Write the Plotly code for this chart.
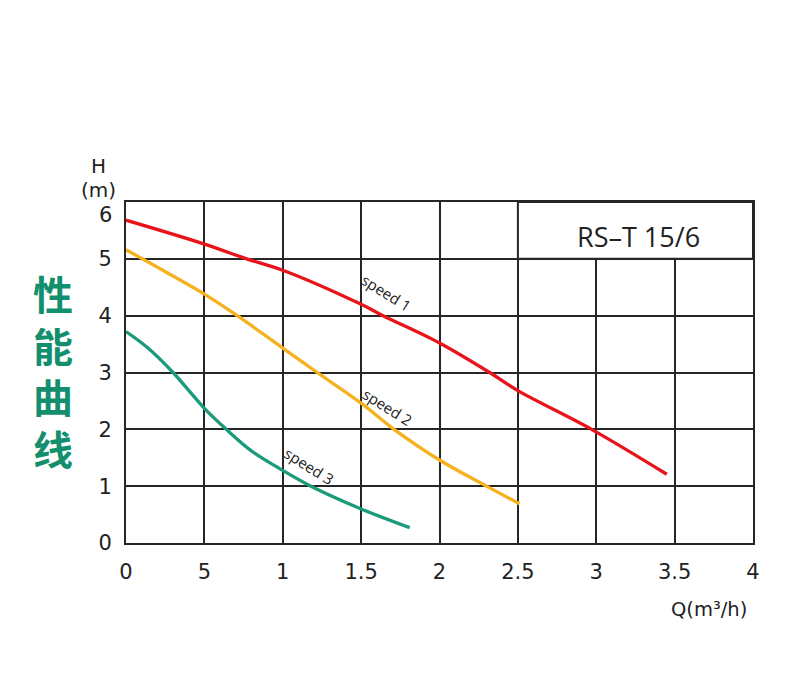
import plotly.graph_objects as go

# Speed 1 (red)
q1 = [0, 0.5, 0.77, 1.0, 1.5, 1.64, 2.0, 2.32, 2.5, 2.97, 3.45]
h1 = [5.68, 5.26, 5.0, 4.80, 4.20, 4.0, 3.52, 3.0, 2.68, 2.0, 1.21]
# Speed 2 (orange)
q2 = [0, 0.26, 0.5, 0.71, 1.0, 1.22, 1.5, 1.71, 2.0, 2.3, 2.51]
h2 = [5.16, 4.76, 4.38, 4.0, 3.43, 3.0, 2.46, 2.0, 1.46, 1.0, 0.69]
# Speed 3 (green)
q3 = [0, 0.14, 0.30, 0.5, 0.64, 0.8, 0.98, 1.18, 1.5, 1.81]
h3 = [3.72, 3.43, 3.0, 2.37, 2.0, 1.62, 1.31, 1.0, 0.60, 0.27]

x_ticks = [0, 0.5, 1, 1.5, 2, 2.5, 3, 3.5, 4]
x_ticktext = ["0", "5", "1", "1.5", "2", "2.5", "3", "3.5", "4"]
y_ticks = [0, 1, 2, 3, 4, 5]
y_ticktext = ["0", "1", "2", "3", "4", "5"]

series_names = ["speed 1", "speed 2", "speed 3"]
colors = ["#e8141c", "#f5b11e", "#1b9a7c"]
model = "RS–T 15/6"
title_cn = "性能曲线"

TICK_FONT = "DejaVu Sans"

fig = go.Figure()
for q, h, c, n in zip([q1, q2, q3], [h1, h2, h3], colors, series_names):
    fig.add_trace(go.Scatter(x=q, y=h, mode="lines", name=n,
                             line=dict(color=c, width=3.3, shape="spline", smoothing=1.0),
                             hoverinfo="skip"))

grid_c = "#262626"
# page has an 8px body margin, so the figure is 8px smaller and margins shifted
fig.update_layout(
    width=782, height=678,
    margin=dict(l=118, r=37, t=194, b=143),
    paper_bgcolor="white", plot_bgcolor="white",
    showlegend=False,
    font=dict(family=TICK_FONT, color="#222222"),
    xaxis=dict(range=[0, 4], tickvals=x_ticks, ticktext=x_ticktext, automargin=False,
               showgrid=True, gridcolor=grid_c, gridwidth=2,
               showline=True, linecolor=grid_c, linewidth=2, mirror=True,
               zeroline=False, ticks="outside", ticklen=9,
               tickcolor="rgba(0,0,0,0)", tickfont=dict(family=TICK_FONT, size=21, color="#222")),
    yaxis=dict(range=[0, 6], tickvals=y_ticks, ticktext=y_ticktext, automargin=False,
               showgrid=True, gridcolor=grid_c, gridwidth=2,
               showline=True, linecolor=grid_c, linewidth=2, mirror=True,
               zeroline=False, ticks="outside", ticklen=8,
               tickcolor="rgba(0,0,0,0)", tickfont=dict(family=TICK_FONT, size=21, color="#222")),
)

# label box (top right) without inner grid
fig.add_shape(type="rect", xref="x", yref="y", x0=2.5, x1=4, y0=5, y1=6,
              fillcolor="white", line=dict(color=grid_c, width=2), layer="between")

fig.add_annotation(x=3.27, y=5.39, xref="x", yref="y", text=model, showarrow=False,
                   font=dict(family="Open Sans", size=27, color="#222"))

# speed labels
lab_pos = [(1.665, 4.40), (1.67, 2.39), (1.17, 1.36)]
for (lx, ly), n in zip(lab_pos, series_names):
    fig.add_annotation(x=lx, y=ly, xref="x", yref="y", text=n, showarrow=False,
                       textangle=32, font=dict(family="Open Sans", size=15, color="#222"))

# top tick "6"
fig.add_annotation(x=0, y=6, xref="x", yref="y", text="6", showarrow=False,
                   xanchor="right", xshift=-12, yshift=-13,
                   font=dict(family=TICK_FONT, size=21, color="#222"))

# axis titles
fig.add_annotation(xref="paper", yref="paper", x=0, y=1, text="(m)", showarrow=False,
                   xanchor="center", yanchor="middle", xshift=-28, yshift=12,
                   font=dict(family=TICK_FONT, size=20, color="#222"))
fig.add_annotation(xref="paper", yref="paper", x=0, y=1, text="H", showarrow=False,
                   xanchor="center", yanchor="middle", xshift=-28, yshift=36,
                   font=dict(family=TICK_FONT, size=20, color="#222"))
fig.add_annotation(xref="paper", yref="paper", x=1, y=0, text="Q(m³/h)", showarrow=False,
                   xanchor="right", yanchor="middle", xshift=-4, yshift=-66,
                   font=dict(family=TICK_FONT, size=19.5, color="#222"))

# Chinese vertical title
for i, ch in enumerate(title_cn):
    fig.add_annotation(xref="paper", yref="paper", x=0, y=1, text=ch, showarrow=False,
                       xanchor="center", yanchor="middle", xshift=-73, yshift=-(91 + 51.5 * i),
                       font=dict(family="Noto Sans CJK SC", size=40, color="#138f6e", weight="bold"))

fig.write_html("out.html")
